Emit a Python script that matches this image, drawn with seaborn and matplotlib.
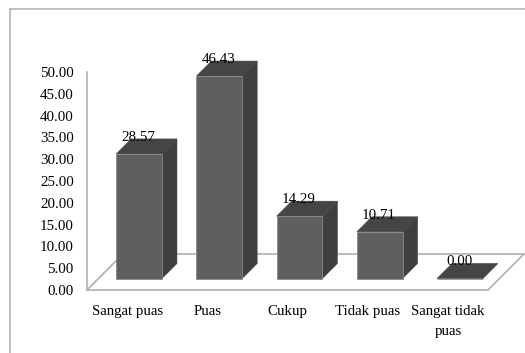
import matplotlib
matplotlib.use("Agg")
import matplotlib.pyplot as plt
from matplotlib.patches import Polygon
from matplotlib.lines import Line2D
import seaborn as sns
import pandas as pd

categories = ["Sangat puas", "Puas", "Cukup", "Tidak puas", "Sangat tidak\npuas"]
values = [28.57, 46.43, 14.29, 10.71, 0.00]
tick_values = [0, 5, 10, 15, 20, 25, 30, 35, 40, 45, 50]

W, H = 525, 353
sns.set_theme(style="white")
plt.rcParams["font.family"] = ["Liberation Serif", "DejaVu Serif"]

fig = plt.figure(figsize=(W / 100, H / 100), dpi=100, facecolor="white")
# plot plane: x 87..488 px, y 72..290 px
ax = fig.add_axes([87 / W, 1 - 290 / H, 401 / W, 218 / H])
df = pd.DataFrame({"cat": categories, "val": values})

PX = 401 / 5          # px per category
PY = 218 / 50         # px per value unit
base_shift = 11.5 / PY   # bars stand behind the front floor edge
x_shift = 12 / PX
depth_x = 15 / PX
depth_y = 15 / PY

sns.barplot(data=df, x="cat", y="val", ax=ax, width=0.57, color="#5f5f5f",
            saturation=1, bottom=base_shift, edgecolor="#8a8a8a", linewidth=0.6, zorder=3)
ax.set_xlim(-0.5, 4.5)
ax.set_ylim(0, 50)
ax.set_xlabel("")
ax.set_ylabel("")
ax.set_yticks(tick_values)
ax.set_yticklabels([f"{v:.2f}" for v in tick_values], fontsize=10.8, color="#000000")
ax.set_xticks(range(len(categories)))
ax.set_xticklabels(categories, fontsize=10.7, color="#000000", linespacing=1.68)
ax.tick_params(axis="both", length=0)
ax.tick_params(axis="y", pad=9.5)
ax.tick_params(axis="x", pad=11)
ax.patch.set_alpha(0)
for s in ["top", "right"]:
    ax.spines[s].set_visible(False)
for s in ["left", "bottom"]:
    ax.spines[s].set_color("#b0b0b0")
    ax.spines[s].set_linewidth(1.2)

# 3-D floor derived from the axes extent
floor_d = 36
fx = floor_d / PX
fy = floor_d / PY
grey = dict(color="#b0b0b0", lw=1.2, clip_on=False)
ax.add_line(Line2D([-0.5, -0.5 + fx], [0, fy], zorder=1, **grey))
ax.add_line(Line2D([-0.5 + fx, 4.5 + fx], [fy, fy], zorder=1, **grey))
ax.add_line(Line2D([4.5, 4.5 + fx], [0, fy], zorder=1, **grey))

for p, v in zip(list(ax.patches), values):
    p.set_x(p.get_x() + x_shift)
    x0, w, y1 = p.get_x(), p.get_width(), base_shift + v
    x1 = x0 + w
    side = Polygon([(x1, base_shift), (x1 + depth_x, base_shift + depth_y),
                    (x1 + depth_x, y1 + depth_y), (x1, y1)], closed=True,
                   facecolor="#3f3f3f", edgecolor="#3f3f3f", lw=0.4, zorder=2.5)
    top = Polygon([(x0, y1), (x0 + depth_x, y1 + depth_y),
                   (x1 + depth_x, y1 + depth_y), (x1, y1)], closed=True,
                  facecolor="#454545", edgecolor="#454545", lw=0.4, zorder=2.6, clip_on=False)
    side.set_clip_on(False)
    ax.add_patch(side)
    ax.add_patch(top)
    ax.text(x0 + w / 2 - 0.01, y1 + depth_y + 0.35, f"{v:.2f}", ha="center", va="center",
            fontsize=10.8, color="#000000", zorder=5, clip_on=False)

# chart frame
fig.add_artist(Line2D([10 / W, 10 / W], [0, 1 - 9 / H], color="#b4b4b4", lw=1.2))
fig.add_artist(Line2D([10 / W, 1], [1 - 9 / H, 1 - 9 / H], color="#b4b4b4", lw=1.2))

fig.savefig("out.png", dpi=100)
